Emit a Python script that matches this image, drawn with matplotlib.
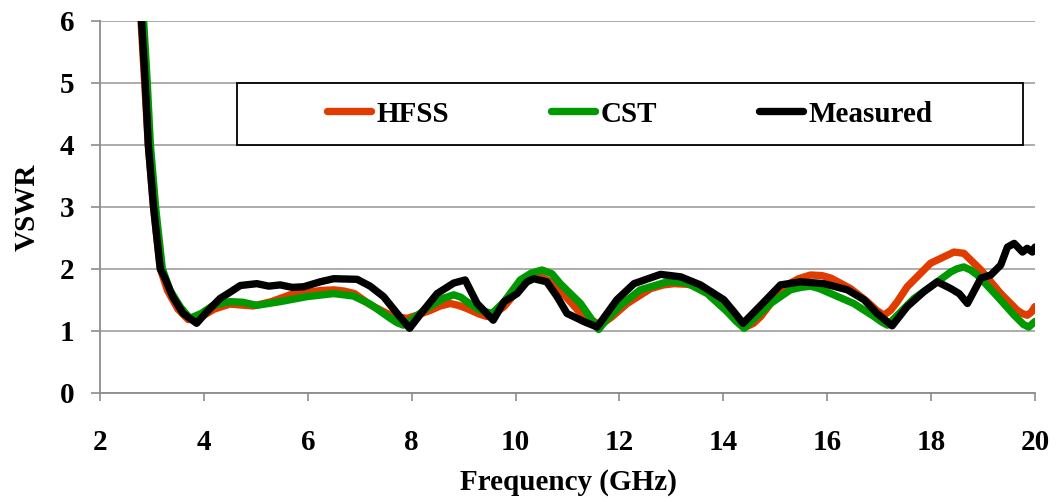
import matplotlib.pyplot as plt
from matplotlib.patches import Rectangle

# VSWR vs frequency (GHz) for the two simulations and the measurement
hfss_f = [2.74, 2.79, 2.86, 2.93, 3.03, 3.16, 3.30, 3.50, 3.70, 3.90,
          4.20, 4.50, 4.95, 5.30, 5.66, 6.00, 6.25, 6.50, 6.70, 6.90,
          7.20, 7.55, 7.75, 7.91, 8.10, 8.36, 8.55, 8.74, 8.90, 9.06,
          9.30, 9.45, 9.60, 9.78, 10.15, 10.33, 10.48, 10.63, 10.80, 11.20,
          11.45, 11.63, 11.85, 12.15, 12.60, 12.85, 13.05, 13.30, 13.56, 13.95,
          14.20, 14.30, 14.43, 14.58, 14.72, 15.16, 15.45, 15.68, 15.90, 16.07,
          16.45, 16.77, 16.95, 17.09, 17.22, 17.35, 17.54, 17.99, 18.44, 18.63,
          18.96, 19.34, 19.66, 19.75, 19.85, 19.93, 20.0]
hfss_v = [6.5, 6.0, 5.0, 4.0, 3.0, 2.0, 1.65, 1.35, 1.18, 1.20,
          1.35, 1.43, 1.40, 1.47, 1.58, 1.62, 1.65, 1.66, 1.64, 1.60,
          1.42, 1.27, 1.22, 1.20, 1.25, 1.33, 1.40, 1.44, 1.41, 1.36,
          1.27, 1.23, 1.28, 1.39, 1.76, 1.84, 1.87, 1.81, 1.71, 1.33,
          1.18, 1.09, 1.22, 1.44, 1.68, 1.74, 1.76, 1.75, 1.71, 1.50,
          1.28, 1.14, 1.06, 1.12, 1.23, 1.71, 1.84, 1.90, 1.89, 1.85,
          1.68, 1.47, 1.33, 1.25, 1.33, 1.47, 1.71, 2.09, 2.27, 2.25,
          1.98, 1.60, 1.33, 1.28, 1.25, 1.30, 1.39]

cst_f = [2.80, 2.84, 2.91, 2.97, 3.07, 3.20, 3.35, 3.55, 3.73, 3.95,
         4.18, 4.50, 4.75, 5.02, 5.47, 5.98, 6.50, 6.88, 7.20, 7.59,
         7.72, 7.84, 7.98, 8.29, 8.60, 8.81, 8.95, 9.06, 9.32, 9.55,
         9.78, 10.09, 10.30, 10.51, 10.70, 10.86, 11.25, 11.45, 11.60, 11.75,
         12.02, 12.40, 12.92, 13.10, 13.30, 13.69, 14.07, 14.25, 14.40, 14.60,
         14.91, 15.29, 15.50, 15.68, 15.85, 16.07, 16.51, 16.90, 17.05, 17.16,
         17.35, 17.67, 18.12, 18.38, 18.50, 18.63, 18.76, 18.89, 19.28, 19.60,
         19.78, 19.88, 20.0]
cst_v = [6.5, 6.0, 5.0, 4.0, 3.0, 2.0, 1.65, 1.38, 1.20, 1.28,
         1.41, 1.47, 1.46, 1.41, 1.47, 1.55, 1.60, 1.56, 1.43, 1.20,
         1.13, 1.09, 1.17, 1.36, 1.52, 1.58, 1.54, 1.47, 1.33, 1.28,
         1.47, 1.82, 1.93, 1.98, 1.92, 1.76, 1.44, 1.20, 1.02, 1.18,
         1.41, 1.66, 1.79, 1.79, 1.77, 1.60, 1.31, 1.15, 1.04, 1.20,
         1.44, 1.66, 1.70, 1.72, 1.68, 1.60, 1.44, 1.23, 1.14, 1.09,
         1.25, 1.52, 1.79, 1.95, 2.00, 2.03, 1.98, 1.90, 1.55, 1.25,
         1.10, 1.06, 1.15]

meas_f = [2.76, 2.80, 2.87, 2.93, 3.03, 3.16, 3.25, 3.40, 3.60, 3.86, 4.05, 4.31, 4.50, 4.70,
          5.02, 5.25, 5.47, 5.70, 5.92, 6.24, 6.50, 6.95, 7.20, 7.46, 7.70, 7.96, 8.20, 8.49,
          8.81, 9.03, 9.26, 9.57, 9.78, 10.03, 10.22, 10.35, 10.60, 10.80, 10.99, 11.09, 11.31,
          11.57, 11.95, 12.28, 12.79, 13.18, 13.56, 14.01, 14.20, 14.38, 14.72, 15.10, 15.49,
          15.94, 16.39, 16.71, 16.96, 17.25, 17.54, 17.86, 18.12, 18.38, 18.54, 18.70, 18.96,
          19.15, 19.34, 19.47, 19.60, 19.76, 19.85, 19.95, 20.0]
meas_v = [6.5, 6.0, 5.0, 4.0, 3.0, 2.0, 1.85, 1.55, 1.28, 1.12, 1.30, 1.52, 1.62, 1.73,
          1.76, 1.72, 1.74, 1.70, 1.71, 1.79, 1.84, 1.83, 1.72, 1.55, 1.30, 1.04, 1.30, 1.60,
          1.77, 1.82, 1.44, 1.17, 1.47, 1.60, 1.79, 1.84, 1.79, 1.55, 1.28, 1.24, 1.15,
          1.06, 1.50, 1.76, 1.91, 1.87, 1.74, 1.50, 1.31, 1.12, 1.41, 1.74, 1.79,
          1.76, 1.66, 1.50, 1.28, 1.08, 1.39, 1.63, 1.79, 1.68, 1.60, 1.44, 1.85,
          1.90, 2.06, 2.35, 2.41, 2.27, 2.33, 2.27, 2.35]

x_ticks = [2, 4, 6, 8, 10, 12, 14, 16, 18, 20]
y_ticks = [0, 1, 2, 3, 4, 5, 6]

plt.rcParams['font.family'] = 'Liberation Serif'
plt.rcParams['font.weight'] = 'bold'
plt.rcParams['font.size'] = 21

fig = plt.figure(figsize=(10.56, 4.98), dpi=100)
ax = fig.add_axes([0.0947, 0.2114, 0.8854, 0.7466])

lw = 5.3
ax.plot(hfss_f, hfss_v, color='#E03C00', lw=lw, label='HFSS',
        solid_capstyle='round', solid_joinstyle='round', zorder=3)
ax.plot(cst_f, cst_v, color='#009900', lw=lw, label='CST',
        solid_capstyle='round', solid_joinstyle='round', zorder=3.1)
ax.plot(meas_f, meas_v, color='black', lw=lw, label='Measured',
        solid_capstyle='round', solid_joinstyle='round', zorder=3.2)

ax.set_xlim(2, 20)
ax.set_ylim(0, 6)
ax.set_xticks(x_ticks)
ax.set_yticks(y_ticks)

ax.grid(axis='y', color='#a6a6a6', lw=1.3, zorder=0)
ax.set_axisbelow(True)
for side in ['top', 'right']:
    ax.spines[side].set_visible(False)
for side in ['left', 'bottom']:
    ax.spines[side].set_color('#8c8c8c')
    ax.spines[side].set_linewidth(1.3)
ax.tick_params(axis='x', direction='out', length=6, width=1.2, color='#8c8c8c', pad=20)
ax.tick_params(axis='y', direction='out', length=6.5, width=1.2, color='#8c8c8c', pad=12)

ax.set_xlabel('Frequency (GHz)', fontweight='bold')
ax.set_ylabel('VSWR', fontweight='bold')
ax.xaxis.set_label_coords(0.501, -0.205)
ax.yaxis.set_label_coords(-0.064, 0.5)

# framed legend box sitting between the 4 and 5 gridlines
box = (0.1465, 0.666, 0.8405, 0.167)
ax.add_patch(Rectangle(box[:2], box[2], box[3], transform=ax.transAxes,
                       facecolor='white', edgecolor='black', lw=1.3, zorder=4))
ax.legend(loc='center', bbox_to_anchor=(box[0] + box[2] / 2, box[1] + box[3] / 2),
          ncol=3, frameon=False, handlelength=1.5, handletextpad=0.2,
          columnspacing=3.5, borderaxespad=0)

plt.savefig('out.png', dpi=100)
